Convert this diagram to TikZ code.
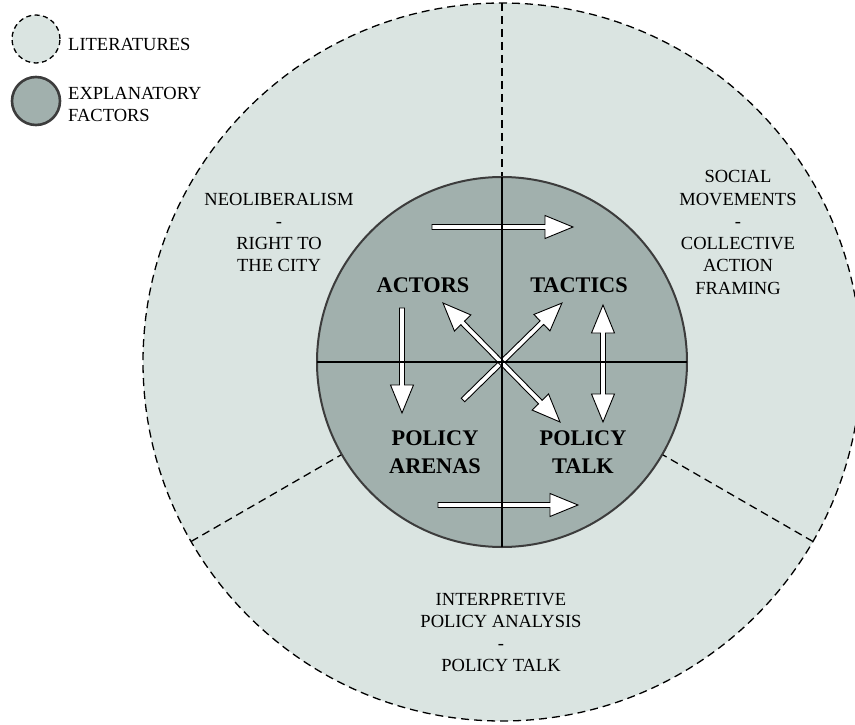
\documentclass[tikz,border=0pt]{standalone}
\usepackage{fontspec}
\setmainfont{Liberation Serif}
\definecolor{outerfill}{HTML}{DAE4E1}
\definecolor{innerfill}{HTML}{A1B0AD}
\definecolor{ringline}{HTML}{3C3C3C}
\makeatletter
\newcommand\hollowarrow[3]{%
  \pgfmathanglebetweenpoints{\pgfpointanchor{#1}{center}}{\pgfpointanchor{#2}{center}}%
  \let\harAng\pgfmathresult
  \pgfpointdiff{\pgfpointanchor{#1}{center}}{\pgfpointanchor{#2}{center}}%
  \edef\harDx{\the\pgf@x}\edef\harDy{\the\pgf@y}%
  \pgfmathveclen{\harDx}{\harDy}%
  \let\harLen\pgfmathresult
  \pgfmathsetmacro\harA{\harLen-28}%
  \begin{scope}[shift={(#1)}, rotate=\harAng]
    \ifnum#3=2
      \draw[arrowbody] (0pt,0pt) -- (28pt,11.5pt) -- (28pt,2.5pt) -- (\harA pt,2.5pt)
        -- (\harA pt,11.5pt) -- (\harLen pt,0pt) -- (\harA pt,-11.5pt) -- (\harA pt,-2.5pt)
        -- (28pt,-2.5pt) -- (28pt,-11.5pt) -- cycle;
    \else
      \draw[arrowbody] (0pt,-2.5pt) -- (\harA pt,-2.5pt) -- (\harA pt,-11.5pt)
        -- (\harLen pt,0pt) -- (\harA pt,11.5pt) -- (\harA pt,2.5pt) -- (0pt,2.5pt) -- cycle;
    \fi
  \end{scope}}
\makeatother
\begin{document}
\begin{tikzpicture}[x=1pt,y=-1pt,
  arrowbody/.style={fill=white, draw=black, line width=0.9pt, line join=miter},
  divider/.style={draw=black, line width=1.3pt, dash pattern=on 8pt off 5pt},
  crossline/.style={draw=black, line width=2.6pt},
  plaintext/.style={font=\fontsize{18.5}{22.3}\selectfont, align=center, inner sep=0pt, text=black},
  boldtext/.style={font=\fontsize{22.3}{28}\selectfont\bfseries, align=center, inner sep=0pt}]
\useasboundingbox (0,0) rectangle (855,725);
\coordinate (c) at (502,362);
% outer ring
\node[circle, minimum size=718pt, inner sep=0pt, outer sep=0pt, fill=outerfill, divider] (outer) at (c) {};
\node[circle, minimum size=370pt, inner sep=0pt, outer sep=0pt] (innerref) at (c) {};
\draw[divider] (outer.90) -- (innerref.90);
\draw[divider] (outer.210) -- (innerref.210);
\draw[divider] (outer.330) -- (innerref.330);
% inner circle
\node[circle, minimum size=370pt, inner sep=0pt, outer sep=0pt, fill=innerfill, draw=ringline, line width=2pt] (inner) at (c) {};
% arrows
\coordinate (t1) at (432,227); \coordinate (t2) at (573,227);
\coordinate (b1) at (438,505); \coordinate (b2) at (578,505);
\coordinate (l1) at (402,308); \coordinate (l2) at (402,413);
\coordinate (r1) at (603,305); \coordinate (r2) at (603,422);
\coordinate (d1) at (463,400); \coordinate (d2) at (562,303);
\coordinate (e1) at (443,303); \coordinate (e2) at (560,422);
\hollowarrow{t1}{t2}{1}
\hollowarrow{b1}{b2}{1}
\hollowarrow{l1}{l2}{1}
\hollowarrow{r1}{r2}{2}
\hollowarrow{d1}{d2}{1}
\hollowarrow{e1}{e2}{2}
% cross
\draw[crossline] (inner.north) -- (inner.south);
\draw[crossline] (inner.west) -- (inner.east);
% bold labels
\node[boldtext] (actors) at (423,285) {ACTORS};
\node[boldtext] (tactics) at (579,285) {TACTICS};
\node[boldtext] (arenas) at (435,452.5) {POLICY\\ARENAS};
\node[boldtext] (talk) at (583,452.5) {POLICY\\TALK};
% literature labels
\node[plaintext] (neo) at (279,232.5) {NEOLIBERALISM\\-\\RIGHT TO\\THE CITY};
\node[plaintext] (soc) at (738,232.5) {SOCIAL\\MOVEMENTS\\-\\COLLECTIVE\\ACTION\\FRAMING};
\node[plaintext] (ipa) at (501,632.5) {INTERPRETIVE\\POLICY ANALYSIS\\-\\POLICY TALK};
% legend
\node[circle, minimum size=48pt, inner sep=0pt, fill=outerfill, draw=black, line width=1.3pt, dash pattern=on 5pt off 3.5pt] (leg1) at (36,39) {};
\node[circle, minimum size=48pt, inner sep=0pt, fill=innerfill, draw=ringline, line width=2.6pt] (leg2) at (36,101) {};
\node[plaintext, anchor=west] (leglit) at (68,44) {LITERATURES};
\node[plaintext, anchor=west, align=left] (legexp) at (68,104.5) {EXPLANATORY\\FACTORS};
\end{tikzpicture}
\end{document}
